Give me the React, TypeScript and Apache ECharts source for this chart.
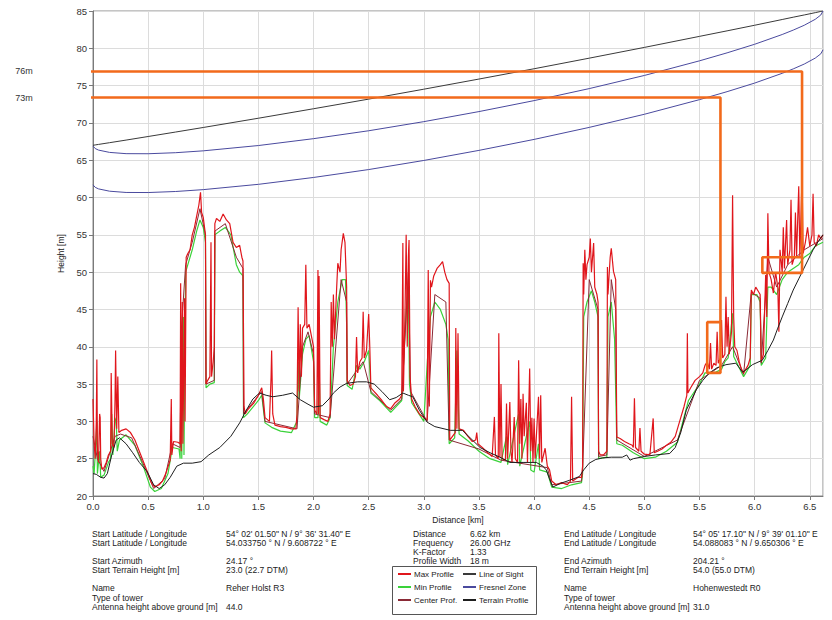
import React, { useEffect, useRef } from 'react';
import * as echarts from 'echarts';

const FONT = '"Liberation Sans", Arial, sans-serif';

// ---------- axes ----------
const X_MIN = 0;
const X_MAX = 6.62;
const X_STEP = 0.5;
const Y_MIN = 20;
const Y_MAX = 85;
const Y_STEP = 5;

// ---------- line of sight & fresnel zone ----------
const fresnelX = [0, 0.02, 0.05, 0.15, 0.3, 0.5, 0.75, 1.0, 1.5, 2.0, 2.5, 3.0, 3.5, 4.0, 4.5, 5.0, 5.5, 5.75, 6.0, 6.25, 6.35, 6.45, 6.55, 6.6, 6.62];
const losY = [67.0, 67.05, 67.12, 67.35, 67.7, 68.18, 68.78, 69.39, 70.63, 71.9, 73.19, 74.52, 75.88, 77.26, 78.68, 80.12, 81.6, 82.34, 83.09, 83.86, 84.17, 84.47, 84.78, 84.94, 85.0];
const fresnelUpperY = [66.9, 66.57, 66.36, 66.05, 65.88, 65.87, 66.01, 66.26, 66.97, 67.89, 68.95, 70.17, 71.52, 72.99, 74.6, 76.36, 78.32, 79.39, 80.54, 81.85, 82.44, 83.09, 83.89, 84.46, 85.0];
const fresnelLowerY = [61.7, 61.37, 61.16, 60.85, 60.68, 60.67, 60.81, 61.06, 61.77, 62.69, 63.75, 64.97, 66.32, 67.79, 69.4, 71.16, 73.12, 74.19, 75.34, 76.65, 77.24, 77.89, 78.69, 79.26, 79.8];

// ---------- terrain profiles [km, m] ----------
const terrainProfile: [number, number][] = [
  [0, 23], [0.03, 22.9], [0.07, 22.5], [0.1, 22.4], [0.13, 23], [0.17, 25.5], [0.21, 27.5], [0.24, 27.8], [0.3, 27], [0.36, 25.8],
  [0.42, 24.5], [0.49, 23.3], [0.55, 21.5], [0.6, 21], [0.65, 21.5], [0.7, 22.5], [0.76, 24], [0.82, 24.4], [0.9, 24.4], [0.98, 24.6],
  [1.05, 25.5], [1.15, 26.5], [1.25, 28], [1.33, 29.8], [1.39, 31.5], [1.45, 33], [1.51, 33.8], [1.57, 33.5], [1.63, 33.3], [1.72, 33.5],
  [1.81, 33.8], [1.88, 32.9], [1.95, 32.3], [2.0, 31.9], [2.08, 32.1], [2.14, 33], [2.18, 33.8], [2.24, 34.6], [2.3, 35.1], [2.4, 35.3],
  [2.48, 35.3], [2.55, 35], [2.62, 34], [2.69, 32.9], [2.75, 33.2], [2.81, 33.8], [2.86, 33.5], [2.9, 33.3], [2.96, 31.5], [3.03, 29.9],
  [3.1, 29.3], [3.24, 28.8], [3.35, 28.8], [3.42, 27.8], [3.51, 26.5], [3.6, 25.8], [3.69, 25.2], [3.78, 24.5], [3.9, 24.5], [4.02, 24.5],
  [4.08, 24], [4.11, 23.5], [4.14, 22.3], [4.17, 21.2], [4.24, 21.7], [4.32, 22.1], [4.41, 22.6], [4.45, 23.5], [4.5, 24.4], [4.56, 24.9],
  [4.62, 25.1], [4.7, 25.2], [4.8, 25.2], [4.84, 25.5], [4.87, 24.8], [4.9, 25], [5.0, 25.3], [5.1, 25.5], [5.23, 25.7], [5.28, 26.5],
  [5.33, 28.5], [5.38, 31.5], [5.43, 33], [5.47, 34.2], [5.53, 35.5], [5.59, 36.5], [5.66, 37.2], [5.74, 37.6], [5.83, 37.8], [5.86, 37.2],
  [5.89, 36.6], [5.93, 37], [5.98, 37.6], [6.07, 38.2], [6.12, 39.5], [6.17, 40.9], [6.21, 42.5], [6.25, 44], [6.3, 45.8], [6.35, 47.6],
  [6.4, 49.1], [6.44, 50.3], [6.48, 51.5], [6.53, 53], [6.58, 54.2], [6.62, 55],
];

const maxProfile: [number, number][] = [
  [0, 33], [0.01, 27], [0.02, 25], [0.03, 30], [0.035, 38.3], [0.04, 26], [0.05, 24.5], [0.06, 31], [0.065, 30.5], [0.07, 25],
  [0.08, 23.6], [0.1, 23.8], [0.12, 24.5], [0.14, 25.5], [0.16, 26], [0.165, 36.5], [0.175, 27], [0.19, 26.5], [0.2, 33], [0.205, 39.5],
  [0.215, 29], [0.225, 36], [0.235, 28.5], [0.26, 28.8], [0.3, 29], [0.34, 28.5], [0.38, 27.5], [0.42, 26], [0.46, 24.5], [0.5, 23],
  [0.53, 21.8], [0.56, 21.2], [0.6, 21.5], [0.63, 22], [0.66, 23], [0.7, 24.8], [0.71, 33], [0.715, 25.5], [0.73, 27.3], [0.77, 27.2],
  [0.79, 27], [0.795, 48.5], [0.8, 26], [0.81, 46], [0.815, 27], [0.83, 46.5], [0.835, 30], [0.845, 52], [0.86, 52.5], [0.88, 53],
  [0.9, 55], [0.92, 56], [0.94, 57.5], [0.96, 59], [0.975, 60.7], [0.985, 58], [1.0, 57.3], [1.02, 55], [1.025, 35], [1.04, 35.5],
  [1.06, 36], [1.07, 54], [1.075, 36], [1.09, 38], [1.1, 40], [1.105, 56.5], [1.12, 57.2], [1.15, 56.8], [1.18, 57.8], [1.21, 57],
  [1.24, 56.5], [1.27, 54], [1.3, 53.3], [1.33, 53.6], [1.35, 52], [1.36, 51.5], [1.37, 32], [1.38, 31], [1.4, 31.5], [1.43, 32],
  [1.46, 32.5], [1.5, 33.5], [1.53, 34.5], [1.545, 33], [1.56, 30.5], [1.6, 30], [1.615, 36], [1.62, 39.5], [1.63, 31], [1.65, 29.5],
  [1.7, 29.3], [1.75, 29.2], [1.8, 29], [1.84, 29], [1.85, 31], [1.86, 45.3], [1.87, 34], [1.88, 43], [1.89, 36], [1.9, 42.5],
  [1.92, 43], [1.93, 51], [1.94, 42.5], [1.96, 43], [1.98, 41.5], [2.0, 40], [2.01, 31.5], [2.03, 31], [2.04, 50.3], [2.045, 31],
  [2.05, 49.5], [2.06, 30.5], [2.1, 30.2], [2.13, 30], [2.15, 31], [2.16, 46], [2.17, 40], [2.18, 47], [2.19, 41], [2.21, 48],
  [2.22, 51.2], [2.24, 50], [2.25, 53], [2.27, 55.2], [2.285, 54], [2.3, 48], [2.305, 35.5], [2.33, 34.8], [2.36, 35], [2.38, 36],
  [2.39, 41.3], [2.4, 36.5], [2.42, 38], [2.44, 38.5], [2.45, 44.7], [2.46, 38.5], [2.48, 39.5], [2.5, 44.4], [2.51, 40], [2.52, 34.5],
  [2.55, 34], [2.58, 33.5], [2.62, 32.8], [2.66, 32], [2.7, 31.7], [2.74, 32.5], [2.78, 33], [2.8, 33.5], [2.81, 53.9], [2.815, 34],
  [2.83, 45], [2.84, 55], [2.85, 40], [2.86, 52], [2.866, 54.3], [2.875, 36], [2.89, 33], [2.92, 32], [2.96, 31], [3.0, 30.5],
  [3.03, 30.2], [3.04, 50.3], [3.05, 32], [3.06, 48.9], [3.07, 48], [3.09, 49.5], [3.12, 50.5], [3.15, 51], [3.17, 51.4], [3.19, 50],
  [3.21, 49], [3.23, 48.5], [3.235, 27.5], [3.26, 28], [3.285, 28.5], [3.29, 42.5], [3.3, 29], [3.31, 41.8], [3.32, 29], [3.36, 28.8],
  [3.4, 28], [3.44, 27.3], [3.47, 27.5], [3.48, 28.5], [3.49, 27], [3.53, 26.5], [3.58, 25.8], [3.62, 25.3], [3.64, 30.6], [3.65, 25.5],
  [3.675, 25], [3.68, 41.8], [3.69, 25.2], [3.7, 35], [3.71, 25], [3.74, 24.8], [3.75, 32.4], [3.76, 25], [3.78, 32.6], [3.79, 26],
  [3.8, 24.5], [3.82, 30.6], [3.83, 25], [3.85, 24.5], [3.86, 38.2], [3.87, 27], [3.88, 33], [3.89, 25], [3.9, 33.7], [3.91, 28],
  [3.93, 32.5], [3.94, 24.5], [3.96, 37.1], [3.97, 26], [3.98, 30.5], [3.99, 24.5], [4.0, 30.4], [4.01, 25], [4.04, 33.3], [4.05, 25],
  [4.06, 33.5], [4.07, 24.5], [4.1, 26.4], [4.12, 24], [4.14, 23.5], [4.16, 22], [4.2, 21.5], [4.25, 21.8], [4.3, 21.5], [4.33, 22],
  [4.34, 33.3], [4.35, 22], [4.4, 22.5], [4.43, 22.5], [4.44, 24], [4.445, 51.2], [4.45, 47], [4.46, 53], [4.47, 49], [4.48, 51],
  [4.5, 52], [4.51, 54.5], [4.52, 50], [4.54, 53.9], [4.55, 48], [4.57, 47], [4.58, 46], [4.585, 26], [4.6, 25.5], [4.63, 25.5],
  [4.66, 26], [4.665, 50.7], [4.67, 47], [4.69, 52], [4.7, 53.2], [4.72, 50.1], [4.74, 49], [4.75, 27.9], [4.78, 27.7], [4.82, 27.3],
  [4.86, 27], [4.89, 26.8], [4.9, 26.5], [4.91, 33.1], [4.92, 26.5], [4.95, 26], [4.96, 29.1], [4.97, 26], [5.0, 25.6], [5.05, 25.5],
  [5.08, 30.4], [5.09, 25.8], [5.12, 26], [5.16, 26.3], [5.2, 26.8], [5.24, 27.2], [5.28, 28], [5.32, 30], [5.36, 32], [5.385, 33.5],
  [5.39, 41.8], [5.395, 33.8], [5.42, 34.5], [5.46, 35.5], [5.5, 36], [5.53, 36.5], [5.55, 37.5], [5.57, 38], [5.59, 37], [5.6, 40.5],
  [5.61, 37], [5.63, 37.8], [5.65, 37.5], [5.66, 42], [5.67, 37.8], [5.69, 38.5], [5.7, 43.6], [5.71, 38.5], [5.73, 39], [5.74, 46.7],
  [5.75, 40], [5.76, 44], [5.77, 39], [5.79, 42], [5.8, 60.3], [5.81, 44], [5.82, 40], [5.84, 39.5], [5.86, 38], [5.88, 37],
  [5.9, 36.5], [5.92, 37], [5.94, 37.5], [5.96, 38.5], [5.97, 47.6], [5.99, 47], [6.01, 48], [6.03, 47.5], [6.05, 47], [6.06, 38],
  [6.08, 39], [6.1, 49.6], [6.11, 44], [6.12, 57.9], [6.13, 50], [6.15, 49], [6.17, 47.2], [6.19, 50], [6.21, 48], [6.22, 42],
  [6.23, 53], [6.25, 50], [6.26, 56], [6.27, 50.5], [6.29, 57], [6.3, 51], [6.32, 53], [6.33, 59.7], [6.34, 51], [6.36, 52],
  [6.37, 58], [6.38, 52], [6.4, 61.5], [6.41, 52], [6.43, 63], [6.44, 52.5], [6.46, 54], [6.48, 56], [6.5, 53.5], [6.52, 55],
  [6.53, 60.5], [6.54, 54], [6.56, 53.5], [6.58, 55], [6.6, 54.5], [6.62, 55],
];

const minProfile: [number, number][] = [
  [0, 24], [0.01, 23], [0.03, 28], [0.035, 30], [0.04, 23], [0.06, 26], [0.07, 22.5], [0.1, 22.8], [0.14, 24.5], [0.16, 25],
  [0.17, 31], [0.18, 25.5], [0.2, 30], [0.21, 30.5], [0.22, 26], [0.24, 27.5], [0.3, 28.2], [0.38, 26.8], [0.46, 23.8], [0.52, 21.2],
  [0.56, 20.6], [0.62, 21], [0.68, 23], [0.72, 26.5], [0.78, 26.3], [0.79, 25], [0.8, 40], [0.805, 25], [0.82, 44], [0.825, 25.5],
  [0.84, 50], [0.86, 51], [0.9, 53], [0.94, 55.5], [0.97, 57], [1.0, 56], [1.02, 54], [1.025, 34.5], [1.06, 35], [1.1, 35.2],
  [1.105, 55], [1.15, 55.5], [1.2, 56], [1.25, 55], [1.3, 51], [1.33, 50], [1.36, 49.5], [1.365, 30.5], [1.4, 31], [1.5, 32.8],
  [1.53, 33.5], [1.56, 29.8], [1.62, 29.2], [1.7, 28.7], [1.8, 28.5], [1.85, 30], [1.86, 38], [1.87, 33], [1.9, 39], [1.93, 41],
  [1.96, 41.5], [2.0, 38], [2.01, 30.5], [2.04, 30.5], [2.05, 38], [2.06, 30], [2.12, 29.5], [2.15, 30.5], [2.18, 40], [2.22, 46],
  [2.26, 49], [2.29, 49], [2.3, 43], [2.305, 34.8], [2.35, 34.3], [2.39, 37.5], [2.42, 37], [2.46, 38], [2.5, 39.5], [2.51, 37],
  [2.52, 33.8], [2.6, 32.8], [2.7, 31.2], [2.8, 32.8], [2.84, 45], [2.86, 48], [2.87, 35], [2.89, 32.5], [3.0, 30], [3.04, 40],
  [3.06, 44], [3.1, 46], [3.15, 45], [3.2, 43], [3.22, 41], [3.23, 27], [3.28, 27.8], [3.3, 39.5], [3.32, 28.3], [3.4, 27.4],
  [3.5, 26], [3.6, 25], [3.7, 24.5], [3.75, 28], [3.76, 24.2], [3.86, 31], [3.87, 24], [3.96, 30], [3.97, 23.5], [4.0, 23.2],
  [4.04, 27], [4.05, 23.5], [4.12, 23.2], [4.16, 21.2], [4.25, 21], [4.34, 21.5], [4.43, 21.8], [4.44, 23], [4.45, 44], [4.48, 46],
  [4.52, 47.5], [4.55, 46], [4.58, 44], [4.585, 25], [4.66, 25.2], [4.67, 44], [4.7, 46], [4.73, 41], [4.75, 27], [4.8, 26.8],
  [4.9, 25.8], [5.0, 25], [5.1, 25.2], [5.2, 26], [5.3, 27.2], [5.4, 32.8], [5.5, 35], [5.55, 36.5], [5.6, 36.5], [5.65, 36.6],
  [5.7, 37], [5.73, 38], [5.76, 38.5], [5.8, 44.5], [5.81, 38.7], [5.85, 37.5], [5.9, 36], [5.96, 37.5], [5.97, 47], [6.02, 47],
  [6.05, 46], [6.06, 37.5], [6.1, 38.5], [6.12, 48], [6.15, 48], [6.2, 47], [6.25, 49], [6.3, 50], [6.35, 50.5], [6.4, 51],
  [6.45, 52], [6.5, 52.5], [6.55, 53.5], [6.62, 54],
];

const centerProfile: [number, number][] = [
  [0, 28], [0.04, 25], [0.1, 23.3], [0.2, 28], [0.25, 28.3], [0.35, 27.8], [0.45, 24.5], [0.55, 21], [0.65, 22.3], [0.72, 27],
  [0.79, 26.5], [0.8, 42], [0.84, 51], [0.9, 54], [0.97, 58.5], [1.02, 55], [1.025, 35], [1.1, 35.5], [1.105, 55.5], [1.2, 56.5],
  [1.3, 52], [1.36, 50.5], [1.365, 31], [1.53, 34], [1.56, 30], [1.85, 29], [1.9, 40], [1.95, 42], [2.0, 39], [2.01, 31],
  [2.15, 30.5], [2.25, 49], [2.3, 46], [2.305, 35], [2.45, 38], [2.52, 34], [2.7, 31.5], [2.8, 33], [2.86, 50], [2.88, 34],
  [3.03, 30], [3.1, 47], [3.2, 46], [3.23, 27.5], [3.5, 26.3], [3.7, 24.8], [4.12, 23.8], [4.16, 21.5], [4.43, 22], [4.44, 23.5],
  [4.5, 49], [4.58, 45], [4.585, 25.3], [4.66, 25.5], [4.7, 49], [4.74, 45], [4.75, 27.5], [5.0, 25.3], [5.3, 27.5], [5.5, 35.5],
  [5.7, 37.5], [5.8, 40], [5.9, 36.3], [5.97, 47.3], [6.05, 46.5], [6.06, 37.8], [6.12, 52], [6.2, 48], [6.3, 51], [6.45, 53],
  [6.62, 54.5],
];

// ---------- orange clearance markers ----------
const clearance76: [number, number][] = [[-0.365, 76.9], [6.43, 76.9], [6.43, 49.9], [6.07, 49.9], [6.07, 52.0], [6.43, 52.0]];
const clearance73: [number, number][] = [[-0.365, 73.4], [5.69, 73.4], [5.69, 36.5], [5.57, 36.5], [5.57, 43.3], [5.69, 43.3]];
const clearanceLabels = ['76m', '73m'];

// ---------- info table ----------
const startLabels = ['Start Latitude / Longitude', 'Start Latitude / Longitude', 'Start Azimuth', 'Start Terrain Height [m]', 'Name', 'Type of tower', 'Antenna height above ground [m]'];
const startValues = ['54° 02\' 01.50" N / 9° 36\' 31.40" E', '54.033750 ° N / 9.608722 ° E', '24.17 °', '23.0 (22.7 DTM)', 'Reher Holst R3', '', '44.0'];
const linkLabels = ['Distance', 'Frequency', 'K-Factor', 'Profile Width'];
const linkValues = ['6.62 km', '26.00 GHz', '1.33', '18 m'];
const endLabels = ['End Latitude / Longitude', 'End Latitude / Longitude', 'End Azimuth', 'End Terrain Height [m]', 'Name', 'Type of tower', 'Antenna height above ground [m]'];
const endValues = ['54° 05\' 17.10" N / 9° 39\' 01.10" E', '54.088083 ° N / 9.650306 ° E', '204.21 °', '54.0 (55.0 DTM)', 'Hohenwestedt R0', '', '31.0'];

const zip = (xs: number[], ys: number[]) => xs.map((x, i) => [x, ys[i]]);

export default function App() {
  const ref = useRef<HTMLDivElement>(null);

  useEffect(() => {
    if (!ref.current) return;
    const chart = echarts.init(ref.current, null, { renderer: 'svg' });

    const rowsY = [534, 543, 561, 570, 588, 598, 607];
    const linkRowsY = [534, 543, 552, 561];
    const textEl = (id: string, x: number, y: number, text: string) => ({
      type: 'text', id, x, y,
      style: { text, fill: '#222', font: `8.5px ${FONT}`, verticalAlign: 'middle', align: 'left' },
    });
    const tableEls: any[] = [];
    startLabels.forEach((t, i) => tableEls.push(textEl('sl' + i, 92, rowsY[i], t)));
    startValues.forEach((t, i) => t && tableEls.push(textEl('sv' + i, 226, rowsY[i], t)));
    linkLabels.forEach((t, i) => tableEls.push(textEl('ll' + i, 413, linkRowsY[i], t)));
    linkValues.forEach((t, i) => tableEls.push(textEl('lv' + i, 470, linkRowsY[i], t)));
    endLabels.forEach((t, i) => tableEls.push(textEl('el' + i, 564, rowsY[i], t)));
    endValues.forEach((t, i) => t && tableEls.push(textEl('ev' + i, 693, rowsY[i], t)));
    tableEls.push({
      type: 'rect', id: 'legendBox', shape: { x: 392.5, y: 566.5, width: 144, height: 48 },
      style: { fill: 'none', stroke: '#555', lineWidth: 1 }, z: 0,
    });

    const axisFont = { fontFamily: FONT, fontSize: 9.5, color: '#333' };
    const lineSeries = (name: string, data: any, color: string, z: number, width = 1, extra: any = {}) => ({
      type: 'line', name, data, color, symbol: 'none', showSymbol: false,
      lineStyle: { width, color }, itemStyle: { color }, z, silent: true, ...extra,
    });

    const legendBase = {
      orient: 'vertical', top: 570, itemGap: 5, itemWidth: 13, itemHeight: 2, icon: 'rect', padding: 0,
      textStyle: { fontFamily: FONT, fontSize: 8, color: '#222', padding: [0, 0, 0, -2] },
      selectedMode: false,
    };

    chart.setOption({
      animation: false,
      backgroundColor: '#fff',
      grid: { left: 93, right: 9, top: 11, bottom: 124, show: true, borderColor: '#8a8a8a', borderWidth: 1, backgroundColor: '#fff' },
      xAxis: {
        type: 'value', min: X_MIN, max: X_MAX, interval: X_STEP,
        name: 'Distance [km]', nameLocation: 'middle', nameGap: 16,
        nameTextStyle: { fontFamily: FONT, fontSize: 8.5, color: '#222' },
        axisLine: { show: true, lineStyle: { color: '#7a7a7a' } },
        axisTick: { show: true, length: 4, lineStyle: { color: '#7a7a7a' } },
        axisLabel: { ...axisFont, margin: 5, showMaxLabel: false, formatter: (v: number) => v.toFixed(1) },
        splitLine: { show: true, lineStyle: { color: '#dcdcdc', width: 1 } },
      },
      yAxis: {
        type: 'value', min: Y_MIN, max: Y_MAX, interval: Y_STEP,
        name: 'Height [m]', nameLocation: 'middle', nameGap: 26, nameRotate: 90,
        nameTextStyle: { fontFamily: FONT, fontSize: 8.5, color: '#222' },
        axisLine: { show: true, lineStyle: { color: '#7a7a7a' } },
        axisTick: { show: true, length: 4, lineStyle: { color: '#7a7a7a' } },
        axisLabel: { ...axisFont, margin: 6 },
        splitLine: { show: true, lineStyle: { color: '#dcdcdc', width: 1 } },
      },
      legend: [
        { ...legendBase, left: 398, data: ['Max Profile', 'Min Profile', 'Center Prof.'] },
        { ...legendBase, left: 463, data: ['Line of Sight', 'Fresnel Zone', 'Terrain Profile'] },
      ],
      series: [
        lineSeries('Min Profile', minProfile, '#3ad23a', 3, 1.2),
        lineSeries('Center Prof.', centerProfile, '#8a2a36', 4),
        lineSeries('Max Profile', maxProfile, '#e0161c', 5, 1.2),
        lineSeries('Terrain Profile', terrainProfile, '#1e1e1e', 6),
        lineSeries('Line of Sight', zip(fresnelX, losY), '#3a3a3a', 7),
        lineSeries('Fresnel Zone', zip(fresnelX, fresnelUpperY), '#4a4a9e', 7),
        lineSeries('Fresnel Zone', zip(fresnelX, fresnelLowerY), '#4a4a9e', 7),
        lineSeries('clear76', clearance76, '#f26a1b', 8, 2.6, { clip: false }),
        lineSeries('clear73', clearance73, '#f26a1b', 8, 2.6, { clip: false }),
      ],
      graphic: { elements: tableEls },
    });

    const p76 = chart.convertToPixel({ gridIndex: 0 }, clearance76[0]) as number[];
    const p73 = chart.convertToPixel({ gridIndex: 0 }, clearance73[0]) as number[];
    chart.setOption({
      graphic: {
        elements: [
          { type: 'text', id: 'lbl76', x: p76[0] - 20, y: p76[1], style: { text: clearanceLabels[0], fill: '#333', font: `9px ${FONT}`, align: 'right', verticalAlign: 'middle' } },
          { type: 'text', id: 'lbl73', x: p73[0] - 20, y: p73[1], style: { text: clearanceLabels[1], fill: '#333', font: `9px ${FONT}`, align: 'right', verticalAlign: 'middle' } },
        ],
      },
    });

    return () => chart.dispose();
  }, []);

  return <div ref={ref} style={{ position: 'absolute', left: 0, top: 0, width: 832, height: 620, background: '#fff' }} />;
}
